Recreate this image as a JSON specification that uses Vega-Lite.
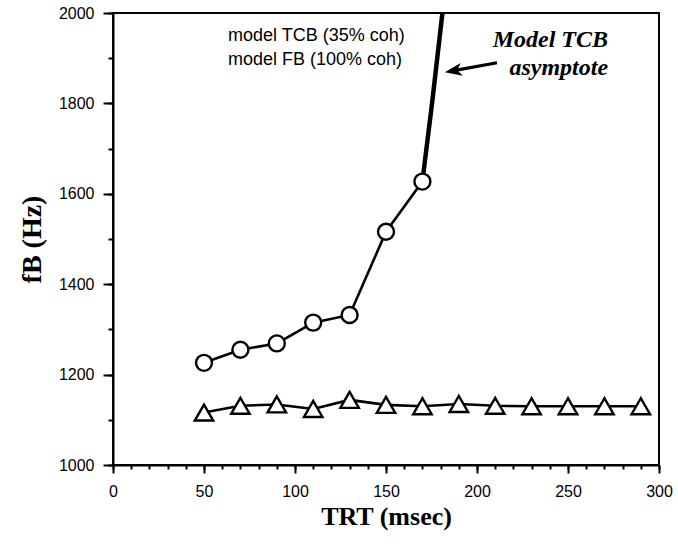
{
  "$schema": "https://vega.github.io/schema/vega-lite/v6.json",
  "width": 546,
  "height": 452,
  "autosize": "none",
  "padding": {"left": 113, "top": 13, "right": 19, "bottom": 79},
  "background": "white",
  "config": {
    "view": {"stroke": "black", "strokeWidth": 2},
    "axis": {"grid": false, "domainColor": "black", "domainWidth": 2, "tickColor": "black", "tickWidth": 2, "labelColor": "black", "titleColor": "black", "labelFlush": false, "labelOverlap": false, "format": "d"}
  },
  "datasets": {
    "tcb": [
      {"series": "model TCB (35% coh)", "TRT": 50, "fB": 1226},
      {"series": "model TCB (35% coh)", "TRT": 70, "fB": 1255},
      {"series": "model TCB (35% coh)", "TRT": 90, "fB": 1269},
      {"series": "model TCB (35% coh)", "TRT": 110, "fB": 1315},
      {"series": "model TCB (35% coh)", "TRT": 130, "fB": 1332},
      {"series": "model TCB (35% coh)", "TRT": 150, "fB": 1516},
      {"series": "model TCB (35% coh)", "TRT": 170, "fB": 1627}
    ],
    "fb": [
      {"series": "model FB (100% coh)", "TRT": 50, "fB": 1116},
      {"series": "model FB (100% coh)", "TRT": 70, "fB": 1131},
      {"series": "model FB (100% coh)", "TRT": 90, "fB": 1134},
      {"series": "model FB (100% coh)", "TRT": 110, "fB": 1124},
      {"series": "model FB (100% coh)", "TRT": 130, "fB": 1144},
      {"series": "model FB (100% coh)", "TRT": 150, "fB": 1133},
      {"series": "model FB (100% coh)", "TRT": 170, "fB": 1130},
      {"series": "model FB (100% coh)", "TRT": 190, "fB": 1135},
      {"series": "model FB (100% coh)", "TRT": 210, "fB": 1131},
      {"series": "model FB (100% coh)", "TRT": 230, "fB": 1130},
      {"series": "model FB (100% coh)", "TRT": 250, "fB": 1130},
      {"series": "model FB (100% coh)", "TRT": 270, "fB": 1130},
      {"series": "model FB (100% coh)", "TRT": 290, "fB": 1130}
    ],
    "asymptote": [
      {"TRT": 170, "fB": 1627},
      {"TRT": 175.5, "fB": 1807},
      {"TRT": 181, "fB": 2000}
    ],
    "arrow": [
      {"TRT": 188, "fB": 1873},
      {"TRT": 211, "fB": 1890}
    ],
    "arrowhead": [
      {"TRT": 187, "fB": 1872}
    ],
    "notes": [
      {"label": "Model TCB", "TRT": 272, "fB": 1940},
      {"label": "asymptote", "TRT": 272, "fB": 1878}
    ]
  },
  "layer": [
    {
      "data": {"name": "fb"},
      "mark": {"type": "line", "color": "black", "strokeWidth": 2.6},
      "encoding": {
        "x": {"field": "TRT", "type": "quantitative", "scale": {"domain": [0, 300], "nice": false, "zero": false},
          "axis": {"orient": "bottom", "values": [0, 50, 100, 150, 200, 250, 300], "tickSize": 8, "labelFont": "Liberation Sans", "labelFontSize": 16, "labelPadding": 10, "title": "TRT (msec)", "titleFont": "Liberation Serif", "titleFontSize": 26, "titleFontWeight": "bold", "titlePadding": 4}},
        "y": {"field": "fB", "type": "quantitative", "scale": {"domain": [1000, 2000], "nice": false, "zero": false},
          "axis": {"orient": "left", "values": [1000, 1200, 1400, 1600, 1800, 2000], "tickSize": 10, "labelFont": "Liberation Sans", "labelFontSize": 16, "labelPadding": 9, "title": "fB (Hz)", "titleFont": "Liberation Serif", "titleFontSize": 28, "titleFontWeight": "bold", "titlePadding": 12}}
      }
    },
    {
      "data": {"name": "tcb"},
      "mark": {"type": "line", "color": "black", "strokeWidth": 2.6},
      "encoding": {
        "x": {"field": "TRT", "type": "quantitative",
          "axis": {"orient": "bottom", "values": [0,10,20,30,40,50,60,70,80,90,100,110,120,130,140,150,160,170,180,190,200,210,220,230,240,250,260,270,280,290,300], "tickSize": 4, "labels": false, "domain": false, "title": null}},
        "y": {"field": "fB", "type": "quantitative",
          "axis": {"orient": "left", "values": [1000,1100,1200,1300,1400,1500,1600,1700,1800,1900,2000], "tickSize": 5, "labels": true, "labelOpacity": 0, "labelFontSize": 9, "domain": false, "title": null}}
      }
    },
    {
      "data": {"name": "asymptote"},
      "mark": {"type": "line", "color": "black", "strokeWidth": 4.5},
      "encoding": {
        "x": {"field": "TRT", "type": "quantitative", "axis": null},
        "y": {"field": "fB", "type": "quantitative", "axis": null}
      }
    },
    {
      "data": {"name": "fb"},
      "mark": {"type": "point", "filled": true, "fill": "white", "stroke": "black", "strokeWidth": 2.4, "size": 340, "opacity": 1},
      "encoding": {
        "x": {"field": "TRT", "type": "quantitative", "axis": null},
        "y": {"field": "fB", "type": "quantitative", "axis": null},
        "shape": {"field": "series", "type": "nominal", "scale": {"domain": ["model TCB (35% coh)", "model FB (100% coh)"], "range": ["circle", "triangle-up"]},
          "legend": {
            "title": null, "orient": "none", "legendX": 54, "legendY": 14, "padding": 0,
            "symbolSize": 256, "rowPadding": 1, "labelOffset": 43,
            "labelFont": "Liberation Sans", "labelFontSize": 18, "labelColor": "black", "labelLimit": 400,
            "symbolFillColor": "white", "symbolStrokeColor": "black", "symbolStrokeWidth": 2
          }}
      }
    },
    {
      "data": {"name": "tcb"},
      "mark": {"type": "point", "filled": true, "fill": "white", "stroke": "black", "strokeWidth": 2.4, "size": 256, "opacity": 1},
      "encoding": {
        "x": {"field": "TRT", "type": "quantitative", "axis": null},
        "y": {"field": "fB", "type": "quantitative", "axis": null},
        "shape": {"field": "series", "type": "nominal"}
      }
    },
    {
      "data": {"name": "arrow"},
      "mark": {"type": "line", "color": "black", "strokeWidth": 3.2},
      "encoding": {
        "x": {"field": "TRT", "type": "quantitative", "axis": null},
        "y": {"field": "fB", "type": "quantitative", "axis": null}
      }
    },
    {
      "data": {"name": "arrowhead"},
      "mark": {"type": "point", "shape": "M-1,0L1,-0.75L0.45,0L1,0.75Z", "filled": true, "color": "black", "size": 300, "angle": -10, "opacity": 1},
      "encoding": {
        "x": {"field": "TRT", "type": "quantitative", "axis": null},
        "y": {"field": "fB", "type": "quantitative", "axis": null}
      }
    },
    {
      "data": {"name": "notes"},
      "mark": {"type": "text", "align": "right", "baseline": "middle", "font": "Liberation Serif", "fontSize": 24, "fontStyle": "italic", "fontWeight": "bold", "color": "black"},
      "encoding": {
        "x": {"field": "TRT", "type": "quantitative", "axis": null},
        "y": {"field": "fB", "type": "quantitative", "axis": null},
        "text": {"field": "label"}
      }
    }
  ],
  "resolve": {"axis": {"x": "independent", "y": "independent"}}
}
